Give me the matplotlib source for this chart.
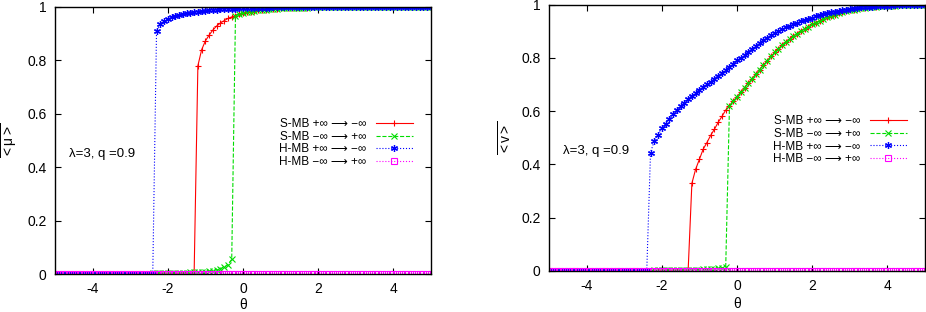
import numpy as np
import matplotlib.pyplot as plt

plt.rcParams['font.family'] = ['Liberation Sans', 'DejaVu Sans']
plt.rcParams['axes.unicode_minus'] = False
plt.rcParams['mathtext.fontset'] = 'custom'
plt.rcParams['mathtext.rm'] = 'Liberation Sans'
plt.rcParams['mathtext.it'] = 'Liberation Sans'

# theta grid, step 0.1 from -5 to 5 (101 points)
theta = np.round(np.arange(-50, 51) / 10.0, 1)

# ---- left panel: <mu> ----
# S-MB +inf -> -inf : zero up to -1.3, jumps at -1.2
mu_s_down = [0] * 38 + [
    0.78, 0.84, 0.873, 0.895, 0.914, 0.929, 0.94, 0.949, 0.957, 0.963,     # -1.2 .. -0.3
    0.968, 0.973, 0.977, 0.98, 0.983, 0.985, 0.987, 0.989, 0.99, 0.992,    # -0.2 .. 0.7
    0.993, 0.994, 0.995, 0.996, 0.996, 0.997, 0.997, 0.998, 0.998, 0.998,  # 0.8 .. 1.7
    0.999, 0.999, 0.999, 0.999, 0.999, 0.999, 0.999, 0.999, 0.999, 0.999,  # 1.8 .. 2.7
    1.0, 1.0, 1.0, 1.0, 1.0, 1.0, 1.0, 1.0, 1.0, 1.0,                      # 2.8 .. 3.7
    1.0, 1.0, 1.0, 1.0, 1.0, 1.0, 1.0, 1.0, 1.0, 1.0,                      # 3.8 .. 4.7
    1.0, 1.0, 1.0]                                                         # 4.8 .. 5.0
# S-MB -inf -> +inf : small values up to -0.3, then jumps onto the other branch
mu_s_up = [0] * 26 + [
    0.002, 0.002, 0.003, 0.003, 0.003, 0.004, 0.004, 0.004, 0.005, 0.005,  # -2.4 .. -1.5
    0.006, 0.006, 0.007, 0.008, 0.009, 0.011, 0.013, 0.016, 0.02, 0.026,   # -1.4 .. -0.5
    0.035, 0.055] + mu_s_down[48:]                                          # -0.4, -0.3
# H-MB +inf -> -inf
mu_h_down = [0] * 27 + [
    0.91, 0.935, 0.947, 0.955, 0.961, 0.966, 0.97, 0.973, 0.976, 0.979,    # -2.3 .. -1.4
    0.981, 0.983, 0.985, 0.986, 0.988, 0.989, 0.99, 0.991, 0.992, 0.993,   # -1.3 .. -0.4
    0.994, 0.994, 0.995, 0.996, 0.996, 0.997, 0.997, 0.997, 0.998, 0.998,  # -0.3 .. 0.6
    0.998, 0.999, 0.999, 0.999, 0.999, 0.999, 0.999, 0.999, 0.999, 1.0,    # 0.7 .. 1.6
    1.0, 1.0, 1.0, 1.0, 1.0, 1.0, 1.0, 1.0, 1.0, 1.0,                      # 1.7 .. 2.6
    1.0, 1.0, 1.0, 1.0, 1.0, 1.0, 1.0, 1.0, 1.0, 1.0,                      # 2.7 .. 3.6
    1.0, 1.0, 1.0, 1.0, 1.0, 1.0, 1.0, 1.0, 1.0, 1.0,                      # 3.7 .. 4.6
    1.0, 1.0, 1.0, 1.0]                                                    # 4.7 .. 5.0
# H-MB -inf -> +inf : stays at zero
mu_h_up = [0] * 101

# ---- right panel: <nu> ----
nu_s_down = [0] * 38 + [
    0.329, 0.382, 0.419, 0.457, 0.482, 0.509, 0.532, 0.558, 0.58, 0.604,   # -1.2 .. -0.3
    0.62, 0.638, 0.654, 0.671, 0.688, 0.705, 0.722, 0.739, 0.756, 0.772,   # -0.2 .. 0.7
    0.789, 0.805, 0.82, 0.834, 0.847, 0.859, 0.87, 0.88, 0.89, 0.9,        # 0.8 .. 1.7
    0.909, 0.917, 0.925, 0.932, 0.939, 0.946, 0.952, 0.957, 0.962, 0.967,  # 1.8 .. 2.7
    0.971, 0.975, 0.978, 0.981, 0.984, 0.986, 0.988, 0.99, 0.991, 0.992,   # 2.8 .. 3.7
    0.993, 0.994, 0.995, 0.996, 0.996, 0.997, 0.997, 0.998, 0.998, 0.998,  # 3.8 .. 4.7
    0.999, 0.999, 0.999]                                                   # 4.8 .. 5.0
nu_s_up = [0] * 26 + [
    0.001, 0.001, 0.002, 0.002, 0.002, 0.002, 0.003, 0.003, 0.003, 0.003,  # -2.4 .. -1.5
    0.004, 0.004, 0.004, 0.005, 0.005, 0.006, 0.006, 0.007, 0.008, 0.01,   # -1.4 .. -0.5
    0.012, 0.016] + nu_s_down[48:]                                          # -0.4, -0.3
nu_h_down = [0] * 27 + [
    0.444, 0.489, 0.51, 0.535, 0.552, 0.571, 0.588, 0.604, 0.618, 0.632,   # -2.3 .. -1.4
    0.645, 0.658, 0.669, 0.68, 0.69, 0.7, 0.711, 0.722, 0.733, 0.744,      # -1.3 .. -0.4
    0.755, 0.766, 0.778, 0.79, 0.801, 0.812, 0.823, 0.834, 0.845, 0.856,   # -0.3 .. 0.6
    0.866, 0.875, 0.884, 0.892, 0.9, 0.907, 0.914, 0.92, 0.926, 0.932,     # 0.7 .. 1.6
    0.937, 0.942, 0.947, 0.951, 0.955, 0.959, 0.963, 0.967, 0.97, 0.973,   # 1.7 .. 2.6
    0.976, 0.979, 0.981, 0.983, 0.985, 0.987, 0.989, 0.99, 0.991, 0.992,   # 2.7 .. 3.6
    0.993, 0.994, 0.995, 0.996, 0.996, 0.997, 0.997, 0.998, 0.998, 0.998,  # 3.7 .. 4.6
    0.999, 0.999, 0.999, 0.999]                                            # 4.7 .. 5.0
nu_h_up = [0] * 101

labels = ['S-MB +\u221e \u27f6 \u2212\u221e', 'S-MB \u2212\u221e \u27f6 +\u221e',
          'H-MB +\u221e \u27f6 \u2212\u221e', 'H-MB \u2212\u221e \u27f6 +\u221e']
styles = [dict(color='#ff0000', ls='-', marker='+', ms=5, mew=0.8),
          dict(color='#00dd00', ls='--', marker='x', ms=4, mew=0.8),
          dict(color='#0000ff', ls=':', marker=(6, 2, 0), ms=5, mew=0.9),
          dict(color='#ff00ff', ls=':', marker='s', ms=4, mew=0.8, mfc='none')]

fig = plt.figure(figsize=(9.26, 3.12), dpi=100)
ax1 = fig.add_axes([55 / 926, 38 / 312, 376 / 926, 267 / 312])
ax2 = fig.add_axes([549 / 926, 41 / 312, 376 / 926, 266.5 / 312])

panels = [(ax1, [mu_s_down, mu_s_up, mu_h_down, mu_h_up], r'$\overline{<\mu>}$', 1),
          (ax2, [nu_s_down, nu_s_up, nu_h_down, nu_h_up], r'$\overline{<v>}$', 3)]

for ax, series, ylab, xpad in panels:
    for ys, lab, st in zip(series, labels, styles):
        assert len(ys) == len(theta)
        ax.plot(theta, ys, lw=0.8, label=lab, **st)
    ax.set_xlim(-5, 5)
    ax.set_ylim(0, 1)
    ax.set_xticks([-4, -2, 0, 2, 4])
    ax.set_yticks([0, 0.2, 0.4, 0.6, 0.8, 1])
    ax.set_yticklabels(['0', '0.2', '0.4', '0.6', '0.8', '1'])
    ax.tick_params(direction='in', top=True, right=True, length=4,
                   labelsize=10, pad=6)
    ax.set_xlabel('\u03b8', fontsize=10, labelpad=xpad)
    ax.set_ylabel(ylab, fontsize=10, labelpad=5)
    for sp in ax.spines.values():
        sp.set_linewidth(1.0)
    ax.text(-4.62, 0.45, '\u03bb=3, q =0.9', fontsize=9.5, va='center')
    ax.legend(loc='upper right', bbox_to_anchor=(0.975, 0.615), frameon=False,
              markerfirst=False, fontsize=8.5, labelspacing=0.05,
              handlelength=3.2, handletextpad=0.8, borderpad=0.2)

fig.savefig('out.png', dpi=100)
